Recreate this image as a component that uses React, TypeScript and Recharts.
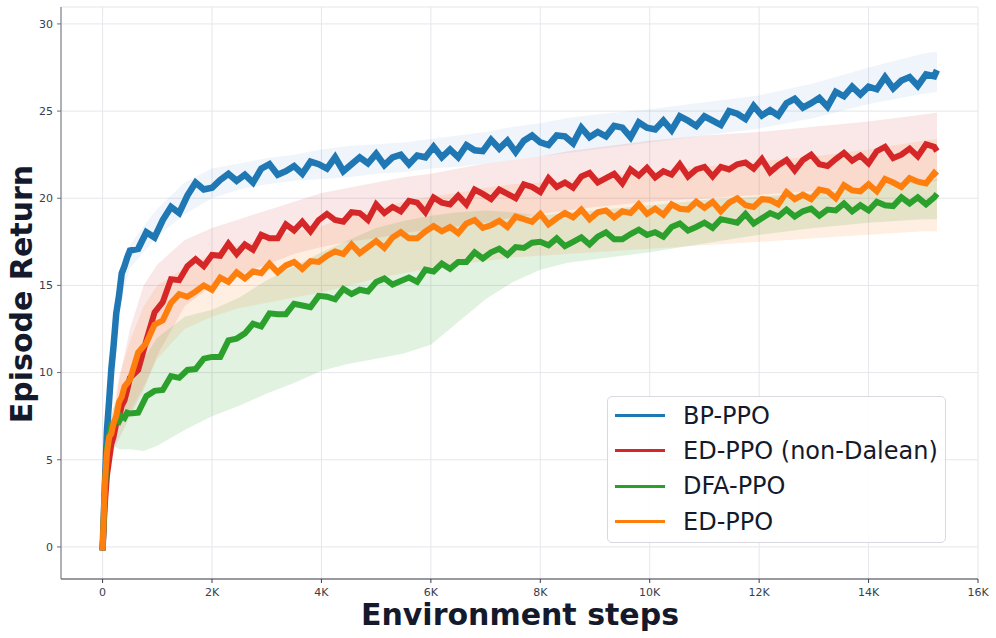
import { ComposedChart, Line, Area, XAxis, YAxis, CartesianGrid, Legend, Label } from "recharts";

// x positions (environment steps) of the mean curves
const STEPS = [
  0, 40, 80, 120, 160, 200, 250, 300, 350, 400, 450,
  500, 650, 800, 950, 1100, 1250, 1400, 1550, 1700, 1850,
  2000, 2150, 2300, 2450, 2600, 2750, 2900, 3050, 3200, 3350,
  3500, 3650, 3800, 3950, 4100, 4250, 4400, 4550, 4700, 4850,
  5000, 5150, 5300, 5450, 5600, 5750, 5900, 6050, 6200, 6350,
  6500, 6650, 6800, 6950, 7100, 7250, 7400, 7550, 7700, 7850,
  8000, 8150, 8300, 8450, 8600, 8750, 8900, 9050, 9200, 9350,
  9500, 9650, 9800, 9950, 10100, 10250, 10400, 10550, 10700, 10850,
  11000, 11150, 11300, 11450, 11600, 11750, 11900, 12050, 12200, 12350,
  12500, 12650, 12800, 12950, 13100, 13250, 13400, 13550, 13700, 13850,
  14000, 14150, 14300, 14450, 14600, 14750, 14900, 15050, 15200, 15250,
];

const BP_PPO = [
  -0.2, 3.4, 6.7, 8.4, 10.2, 11.5, 13.4, 14.4, 15.7, 16.1, 16.6,
  17.0, 17.1, 18.05, 17.75, 18.75, 19.5, 19.15, 20.15, 20.9, 20.5,
  20.6, 21.05, 21.4, 21.0, 21.35, 20.9, 21.7, 21.95, 21.35, 21.55,
  21.85, 21.4, 22.1, 21.95, 21.7, 22.35, 21.55, 21.95, 22.35, 22.0,
  22.55, 21.9, 22.35, 22.5, 21.95, 22.45, 22.35, 22.95, 22.35, 22.8,
  22.35, 23.05, 22.75, 22.7, 23.35, 22.85, 23.3, 22.65, 23.3, 23.6,
  23.2, 23.05, 23.6, 23.55, 23.15, 24.05, 23.5, 23.8, 23.55, 24.15,
  24.05, 23.5, 24.35, 24.05, 23.95, 24.45, 23.9, 24.7, 24.45, 24.15,
  24.7, 24.45, 24.2, 25.0, 24.85, 24.55, 25.3, 24.75, 25.05, 24.75,
  25.45, 25.7, 25.2, 25.45, 25.75, 25.25, 26.1, 25.85, 26.4, 25.95,
  26.4, 26.25, 26.95, 26.3, 26.75, 26.95, 26.45, 27.1, 27.0, 27.35,
];

const ED_PPO_ND = [
  -0.2, 2.4, 4.1, 5.0, 5.9, 6.3, 7.1, 7.4, 8.1, 8.4, 9.0,
  9.7, 10.15, 11.85, 13.45, 14.05, 15.35, 15.3, 16.1, 16.5, 16.1,
  16.75, 16.7, 17.4, 16.8, 17.35, 17.05, 17.9, 17.7, 17.7, 18.5,
  18.15, 18.65, 18.1, 18.75, 19.1, 18.75, 18.65, 19.2, 19.15, 18.75,
  19.65, 19.15, 19.5, 19.25, 19.85, 19.75, 19.2, 20.05, 19.75, 19.65,
  20.15, 19.65, 20.5, 20.25, 19.95, 20.5, 20.25, 20.0, 20.8, 20.65,
  20.35, 21.15, 20.65, 20.9, 20.6, 21.25, 21.45, 20.9, 21.15, 21.4,
  20.85, 21.65, 21.3, 21.75, 21.2, 21.55, 21.35, 21.95, 21.25, 21.65,
  21.8, 21.25, 21.8, 21.65, 21.95, 22.05, 21.7, 22.25, 21.5, 21.9,
  22.2, 21.6, 22.2, 22.5, 21.95, 21.85, 22.25, 22.6, 22.15, 22.45,
  22.0, 22.7, 22.95, 22.3, 22.5, 22.85, 22.4, 23.1, 22.95, 22.7,
];

const DFA_PPO = [
  -0.2, 3.1, 5.6, 6.4, 7.0, 7.0, 7.3, 7.2, 7.5, 7.4, 7.7,
  7.65, 7.7, 8.65, 8.95, 9.0, 9.8, 9.7, 10.15, 10.2, 10.8,
  10.9, 10.9, 11.85, 11.95, 12.25, 12.8, 12.65, 13.4, 13.35, 13.35,
  13.95, 13.85, 13.75, 14.4, 14.35, 14.2, 14.8, 14.5, 14.75, 14.65,
  15.2, 15.4, 15.05, 15.25, 15.45, 15.2, 15.9, 15.8, 16.25, 15.95,
  16.35, 16.35, 16.9, 16.55, 16.9, 17.1, 16.75, 17.2, 17.15, 17.45,
  17.5, 17.3, 17.7, 17.25, 17.5, 17.75, 17.35, 17.8, 18.05, 17.65,
  17.65, 17.95, 18.2, 17.9, 18.05, 17.8, 18.35, 18.55, 18.15, 18.35,
  18.6, 18.3, 18.8, 18.7, 18.6, 19.1, 18.55, 18.85, 19.15, 18.95,
  19.35, 18.95, 19.25, 19.4, 19.0, 19.35, 19.3, 19.7, 19.25, 19.6,
  19.3, 19.8, 19.6, 19.55, 20.05, 19.7, 20.05, 19.65, 20.05, 20.25,
];

const ED_PPO = [
  -0.2, 3.6, 5.4, 6.3, 6.5, 7.1, 7.5, 8.3, 8.6, 9.2, 9.4,
  9.6, 11.15, 11.7, 12.75, 13.0, 14.0, 14.5, 14.35, 14.65, 15.0,
  14.75, 15.45, 15.2, 15.75, 15.4, 15.8, 15.7, 16.25, 15.75, 16.15,
  16.35, 15.95, 16.4, 16.35, 16.7, 16.95, 16.8, 17.35, 16.85, 17.2,
  17.55, 17.15, 17.75, 18.05, 17.7, 17.7, 18.1, 18.4, 18.1, 18.35,
  18.0, 18.55, 18.75, 18.3, 18.45, 18.7, 18.35, 18.95, 18.8, 18.65,
  19.1, 18.5, 18.85, 19.15, 18.9, 19.35, 18.8, 19.2, 19.3, 18.9,
  19.25, 19.15, 19.65, 19.1, 19.4, 19.05, 19.65, 19.4, 19.35, 19.8,
  19.45, 19.8, 19.25, 19.75, 20.0, 19.6, 19.5, 19.95, 19.9, 19.65,
  20.35, 19.95, 20.2, 19.95, 20.5, 20.4, 20.0, 20.75, 20.45, 20.4,
  20.8, 20.4, 21.1, 20.9, 20.65, 21.15, 20.95, 20.85, 21.45, 21.3,
];

// spread (shaded bands) sampled more coarsely
const BAND_STEPS = [
  0, 100, 200, 300, 500, 750, 1000, 1500, 2000, 2500,
  3000, 3500, 4000, 4500, 5000, 5500, 6000, 6500, 7000, 7500,
  8000, 8500, 9000, 10000, 11000, 12000, 13000, 14000, 15000, 15250,
];

const BP_LO = [-0.3, 6.5, 10.8, 13.8, 16.0, 16.9, 17.8, 19.1, 20.0, 20.5, 20.8, 21.0, 21.1, 21.2, 21.4, 21.5, 21.7, 21.8, 22.0, 22.2, 22.4, 22.6, 22.8, 23.2, 23.6, 24.0, 24.6, 25.4, 26.0, 26.1];
const BP_HI = [-0.1, 8.5, 12.3, 15.2, 17.3, 18.4, 19.4, 20.9, 21.7, 22.0, 22.3, 22.5, 22.8, 23.0, 23.1, 23.2, 23.4, 23.6, 23.8, 24.1, 24.3, 24.6, 24.8, 25.1, 25.5, 25.9, 26.6, 27.5, 28.3, 28.4];
const ND_LO = [-0.3, 4.0, 5.5, 6.2, 7.5, 9.0, 11.0, 13.8, 15.0, 15.6, 16.2, 16.8, 17.2, 17.5, 17.7, 18.0, 18.2, 18.4, 18.6, 18.9, 19.1, 19.3, 19.5, 19.8, 20.0, 20.2, 20.4, 20.6, 20.9, 21.0];
const ND_HI = [-0.1, 5.5, 7.5, 9.5, 12.5, 15.0, 16.2, 17.6, 18.3, 18.8, 19.3, 19.8, 20.3, 20.6, 20.9, 21.2, 21.4, 21.7, 22.0, 22.2, 22.4, 22.7, 22.9, 23.3, 23.6, 23.8, 24.1, 24.4, 24.8, 24.9];
const DFA_LO = [-0.3, 5.5, 5.8, 5.6, 5.6, 5.5, 5.8, 6.7, 7.5, 8.1, 8.8, 9.4, 10.1, 10.5, 10.8, 11.1, 11.6, 12.9, 14.2, 15.2, 15.9, 16.3, 16.5, 16.9, 17.4, 17.9, 18.3, 18.6, 18.8, 18.8];
const DFA_HI = [-0.1, 6.5, 8.0, 8.6, 9.4, 10.8, 12.0, 13.2, 13.6, 14.3, 15.3, 16.1, 16.9, 17.6, 18.3, 18.7, 19.0, 19.2, 19.3, 19.2, 19.0, 19.2, 19.3, 19.6, 19.9, 20.1, 20.3, 20.6, 21.0, 21.1];
const ED_LO = [-0.3, 5.0, 6.0, 6.8, 7.8, 9.2, 10.8, 12.5, 13.2, 13.7, 14.0, 14.3, 14.6, 15.0, 15.4, 15.7, 16.0, 16.2, 16.4, 16.6, 16.7, 16.8, 16.9, 17.1, 17.3, 17.5, 17.7, 17.9, 18.1, 18.1];
const ED_HI = [-0.1, 6.8, 8.0, 9.8, 11.8, 13.8, 15.0, 16.0, 16.8, 17.3, 17.7, 18.1, 18.4, 19.0, 19.4, 19.8, 20.1, 20.3, 20.6, 20.8, 20.9, 21.0, 21.2, 21.5, 21.8, 22.1, 22.4, 22.8, 23.3, 23.4];

const X_TICKS = [0, 2000, 4000, 6000, 8000, 10000, 12000, 14000, 16000];
const Y_TICKS = [0, 5, 10, 15, 20, 25, 30];

const SERIES = [
  { name: "BP-PPO", color: "#1f77b4", values: BP_PPO, lo: BP_LO, hi: BP_HI, band: 0.07, width: 6.5 },
  { name: "ED-PPO (non-Dalean)", color: "#d62728", values: ED_PPO_ND, lo: ND_LO, hi: ND_HI, band: 0.11, width: 6 },
  { name: "DFA-PPO", color: "#2ca02c", values: DFA_PPO, lo: DFA_LO, hi: DFA_HI, band: 0.14, width: 6 },
  { name: "ED-PPO", color: "#ff7f0e", values: ED_PPO, lo: ED_LO, hi: ED_HI, band: 0.12, width: 6 },
];

const FONT = "DejaVu Sans, Verdana, sans-serif";
const INK = "#141a2b";

const kFmt = (v: number) => (v === 0 ? "0" : `${v / 1000}K`);

function LegendBox() {
  return (
    <div
      style={{
        width: 339,
        height: 147,
        boxSizing: "border-box",
        border: "1px solid #d8d8de",
        borderRadius: 5,
        background: "rgba(255,255,255,0.85)",
        padding: "1px 0 0 7px",
        fontFamily: FONT,
      }}
    >
      {SERIES.map((s) => (
        <div key={s.name} style={{ display: "flex", alignItems: "center", height: 35.3 }}>
          <span style={{ display: "inline-block", width: 50, height: 3, background: s.color, marginRight: 18 }} />
          <span style={{ fontSize: 24, color: INK, lineHeight: 1, whiteSpace: "nowrap" }}>{s.name}</span>
        </div>
      ))}
    </div>
  );
}

export default function App() {
  return (
    <div style={{ position: "absolute", left: 0, top: 0, fontFamily: FONT }}>
      <ComposedChart width={996} height={638} margin={{ top: 7, right: 18, bottom: 29, left: 0 }}>
        <CartesianGrid stroke="#e6e6ec" />
        <XAxis
          type="number"
          dataKey="x"
          domain={[-760, 16000]}
          ticks={X_TICKS}
          tickFormatter={kFmt}
          height={30}
          tick={{ fill: "#3a3d4c", fontSize: 11, fontFamily: FONT }}
          tickSize={4}
          tickMargin={5}
          stroke="#3c3f4c"
          allowDataOverflow
        >
          <Label
            content={() => (
              <text x={520} y={625} textAnchor="middle" fontSize={30} fontWeight="bold" fill={INK} fontFamily={FONT}>
                Environment steps
              </text>
            )}
          />
        </XAxis>
        <YAxis
          type="number"
          domain={[-1.84, 30.97]}
          ticks={Y_TICKS}
          width={61}
          tick={{ fill: "#3a3d4c", fontSize: 11, fontFamily: FONT }}
          tickSize={4}
          tickMargin={4}
          stroke="#6c6e7a"
          allowDataOverflow
        >
          <Label
            content={() => (
              <text
                x={32}
                y={294}
                transform="rotate(-90, 32, 294)"
                textAnchor="middle"
                fontSize={30}
                fontWeight="bold"
                fill={INK}
                fontFamily={FONT}
              >
                Episode Return
              </text>
            )}
          />
        </YAxis>

        {SERIES.map((s) => (
          <Area
            key={`band-${s.name}`}
            data={BAND_STEPS.map((x, i) => ({ x, range: [s.lo[i], s.hi[i]] }))}
            dataKey="range"
            type="linear"
            stroke="none"
            fill={s.color}
            fillOpacity={s.band}
            isAnimationActive={false}
            legendType="none"
          />
        ))}
        {SERIES.map((s) => (
          <Line
            key={`line-${s.name}`}
            data={STEPS.map((x, i) => ({ x, y: s.values[i] }))}
            dataKey="y"
            name={s.name}
            type="linear"
            stroke={s.color}
            strokeWidth={s.width}
            dot={false}
            isAnimationActive={false}
          />
        ))}

        <Legend
          content={<LegendBox />}
          layout="horizontal"
          verticalAlign="middle"
          align="center"
          wrapperStyle={{ left: 607, top: 396, width: 339, height: 147 }}
        />
      </ComposedChart>
    </div>
  );
}
